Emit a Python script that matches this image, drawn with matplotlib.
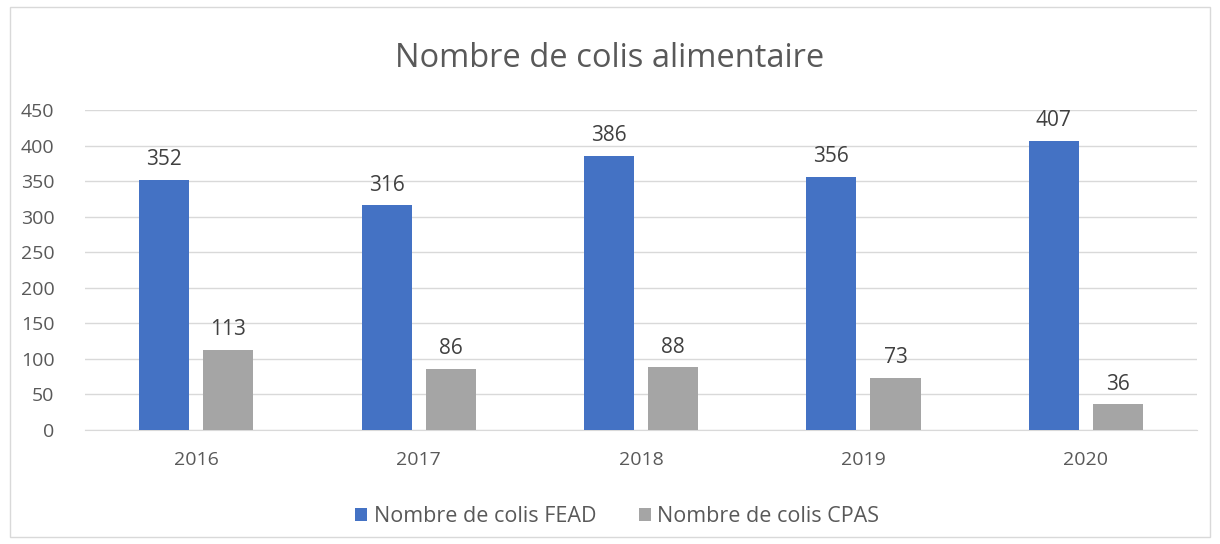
import matplotlib.pyplot as plt
import numpy as np
from matplotlib.patches import Rectangle

years = ["2016", "2017", "2018", "2019", "2020"]
fead = [352, 316, 386, 356, 407]
cpas = [113, 86, 88, 73, 36]
series_names = ["Nombre de colis FEAD", "Nombre de colis CPAS"]

plt.rcParams['font.family'] = ['Open Sans', 'DejaVu Sans']

fig = plt.figure(figsize=(12.2, 5.44), dpi=100)
ax = fig.add_axes([0.0697, 0.2096, 0.9115, 0.5882])

x = np.arange(len(years))
w = 0.225
gap = 0.063
b1 = ax.bar(x - (w + gap) / 2, fead, w, color='#4472C4', label=series_names[0], zorder=3)
b2 = ax.bar(x + (w + gap) / 2, cpas, w, color='#A5A5A5', label=series_names[1], zorder=3)

for bars in (b1, b2):
    for r in bars:
        ax.annotate(str(int(r.get_height())), (r.get_x() + r.get_width() / 2, r.get_height()),
                    xytext=(0, 7), textcoords='offset points', ha='center', va='bottom',
                    fontsize=15, color='#404040')

ax.set_xlim(-0.5, len(years) - 0.5)
ax.set_ylim(0, 450)
ax.set_yticks(range(0, 451, 50))
ax.set_xticks(x)
ax.set_xticklabels(years)
ax.tick_params(length=0, labelsize=14, colors='#595959')
ax.tick_params(axis='y', pad=22)
ax.tick_params(axis='x', pad=15)
ax.grid(axis='y', color='#D9D9D9', linewidth=1, zorder=0)
for s in ['top', 'right', 'left']:
    ax.spines[s].set_visible(False)
ax.spines['bottom'].set_color('#D9D9D9')

fig.text(0.5, 0.893, "Nombre de colis alimentaire", ha='center', va='center',
         fontsize=23.5, color='#595959')

fig.legend(handles=[b1, b2], loc='center', bbox_to_anchor=(0.506, 0.05), ncol=2,
           frameon=False, fontsize=15.5, handlelength=0.55, handleheight=0.55,
           columnspacing=2.0, handletextpad=0.3, labelcolor='#595959')

fig.patches.append(Rectangle((0.008, 0.012), 0.984, 0.976, transform=fig.transFigure,
                             fill=False, edgecolor='#D9D9D9', linewidth=1))

fig.savefig('out.png', dpi=100)
